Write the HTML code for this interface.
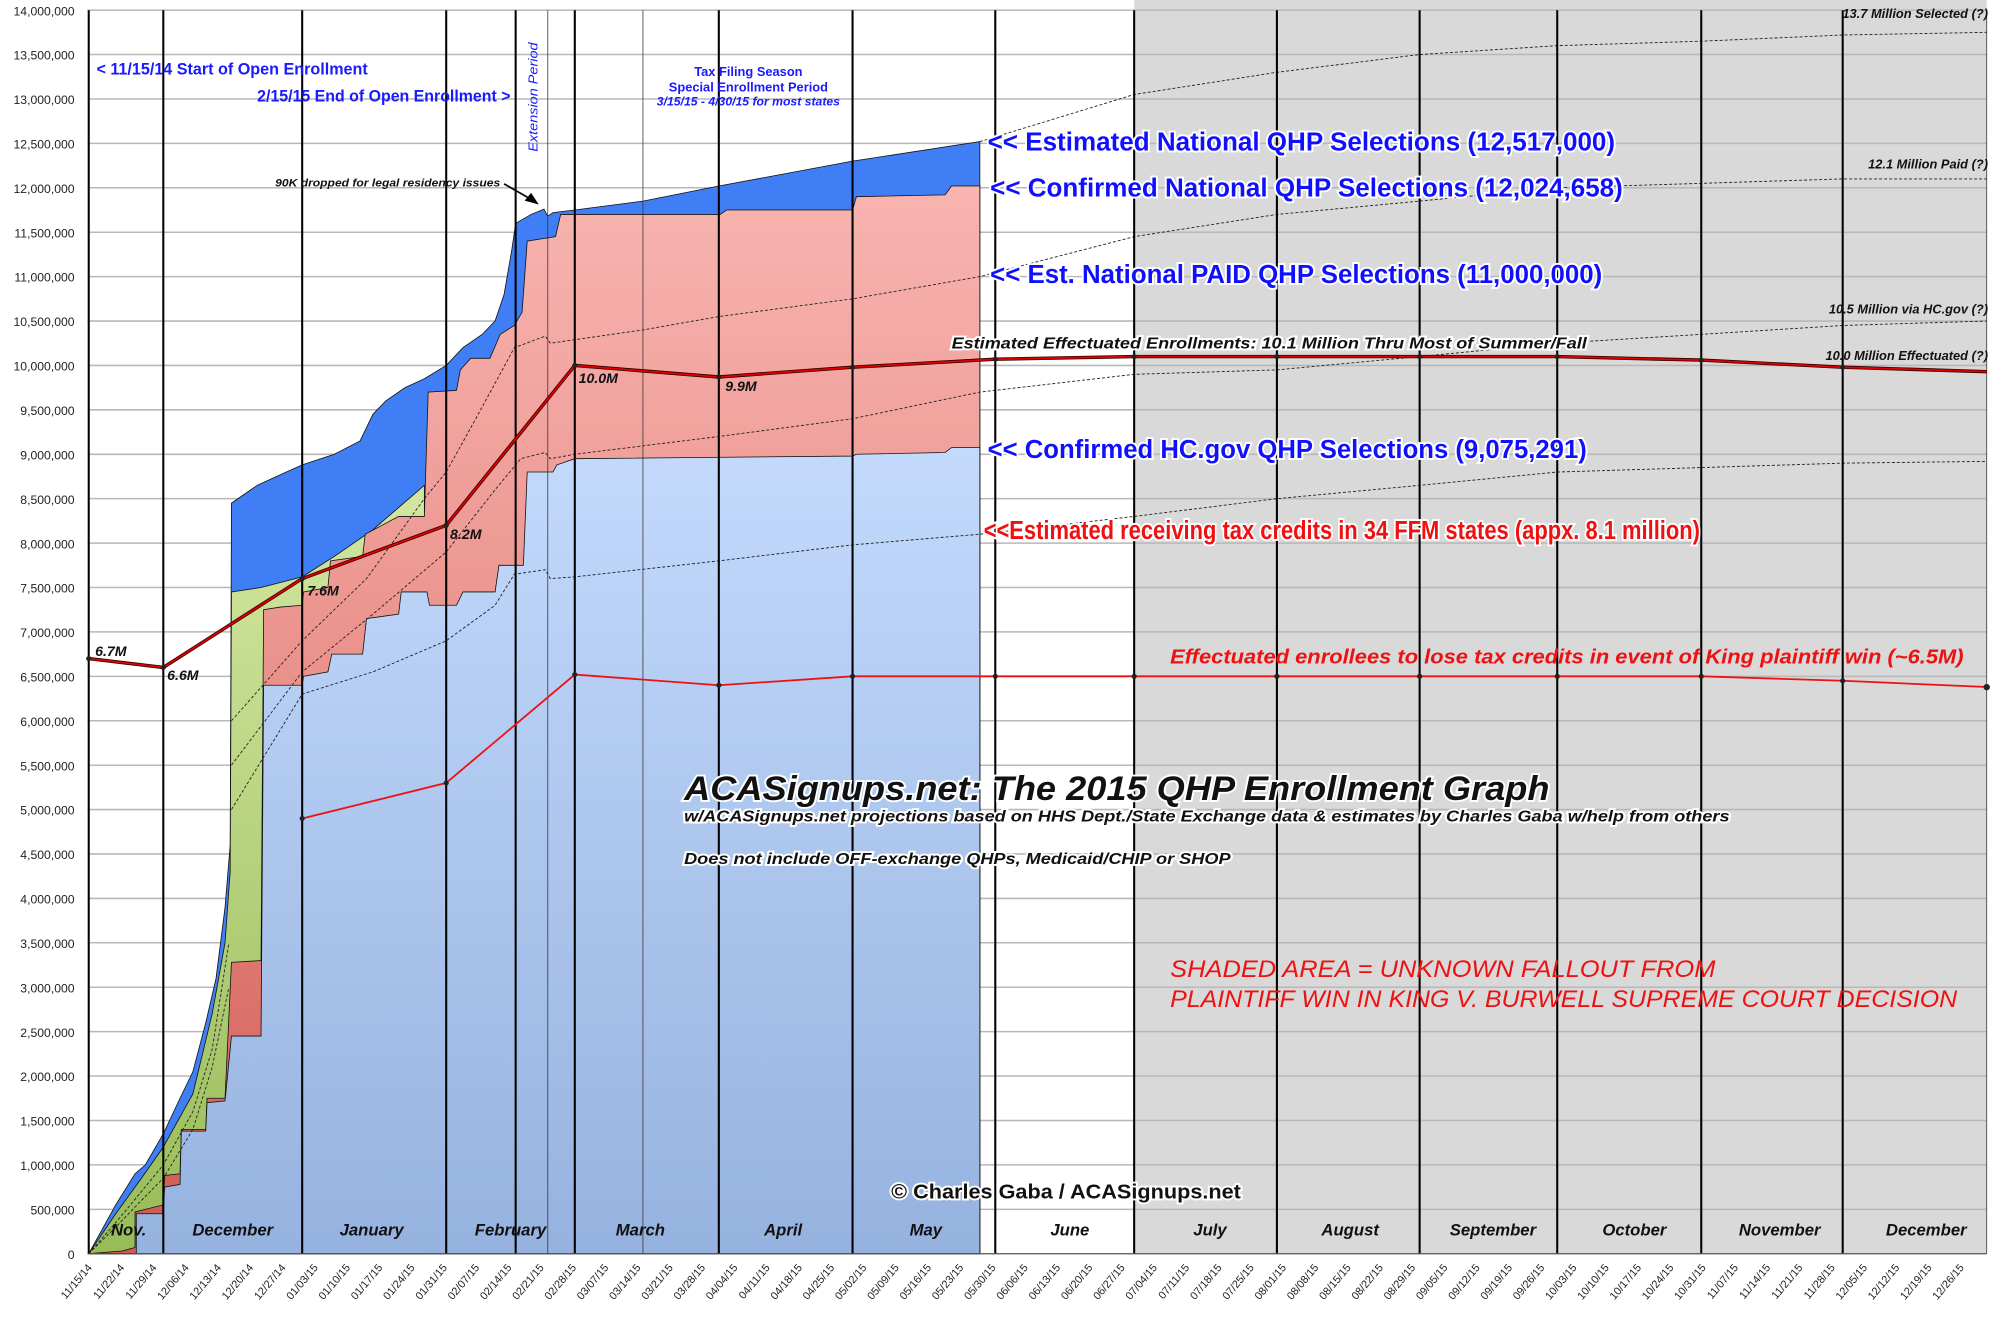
<!DOCTYPE html>
<html><head><meta charset="utf-8"><style>
html,body{margin:0;padding:0;background:#fff;}
svg{display:block;}
text{font-family:"Liberation Sans Narrow","Liberation Sans",sans-serif;}
.yl{font-size:9.5px;text-anchor:end;fill:#222;}
.xl{font-size:8.5px;text-anchor:end;fill:#222;}
.mo{font-size:13px;font-weight:bold;font-style:italic;text-anchor:middle;fill:#111;}
.big{font-size:20px;font-weight:bold;fill:#1010ff;stroke:#fff;stroke-width:3px;paint-order:stroke;}
.halo{stroke:#fff;stroke-width:3px;paint-order:stroke;}
.dl{font-size:11px;font-weight:bold;font-style:italic;fill:#111;}
.rt{font-size:10px;font-weight:bold;font-style:italic;fill:#111;text-anchor:end;}
</style></head><body>
<svg width="2006" height="1327" viewBox="0 0 1560 1032" preserveAspectRatio="none" xmlns="http://www.w3.org/2000/svg">
<defs>
<linearGradient id="lb" gradientUnits="userSpaceOnUse" x1="0" y1="9.1" x2="0" y2="0"><stop offset="0" stop-color="#c3dafc"/><stop offset="1" stop-color="#96b2df"/></linearGradient>
<linearGradient id="pk" gradientUnits="userSpaceOnUse" x1="0" y1="12" x2="0" y2="0"><stop offset="0" stop-color="#f8b4b0"/><stop offset="0.5" stop-color="#e98e88"/><stop offset="1" stop-color="#cf5a52"/></linearGradient>
<linearGradient id="gr" gradientUnits="userSpaceOnUse" x1="0" y1="8.6" x2="0" y2="0"><stop offset="0" stop-color="#d2e6a0"/><stop offset="1" stop-color="#98bc58"/></linearGradient>
</defs>
<rect x="0" y="0" width="1560" height="1032" fill="#fff"/>
<rect x="882" y="0" width="663" height="975" fill="#d9d9d9"/>
<g stroke="#b8b8b8" stroke-width="1.2">
<line x1="68" x2="1545" y1="7.9" y2="7.9"/><line x1="68" x2="1545" y1="42.4" y2="42.4"/><line x1="68" x2="1545" y1="77" y2="77"/><line x1="68" x2="1545" y1="111.5" y2="111.5"/><line x1="68" x2="1545" y1="146" y2="146"/><line x1="68" x2="1545" y1="180.6" y2="180.6"/><line x1="68" x2="1545" y1="215.1" y2="215.1"/><line x1="68" x2="1545" y1="249.7" y2="249.7"/><line x1="68" x2="1545" y1="284.2" y2="284.2"/><line x1="68" x2="1545" y1="318.7" y2="318.7"/><line x1="68" x2="1545" y1="353.3" y2="353.3"/><line x1="68" x2="1545" y1="387.8" y2="387.8"/><line x1="68" x2="1545" y1="422.4" y2="422.4"/><line x1="68" x2="1545" y1="456.9" y2="456.9"/><line x1="68" x2="1545" y1="491.4" y2="491.4"/><line x1="68" x2="1545" y1="526" y2="526"/><line x1="68" x2="1545" y1="560.5" y2="560.5"/><line x1="68" x2="1545" y1="595.1" y2="595.1"/><line x1="68" x2="1545" y1="629.6" y2="629.6"/><line x1="68" x2="1545" y1="664.1" y2="664.1"/><line x1="68" x2="1545" y1="698.7" y2="698.7"/><line x1="68" x2="1545" y1="733.2" y2="733.2"/><line x1="68" x2="1545" y1="767.8" y2="767.8"/><line x1="68" x2="1545" y1="802.3" y2="802.3"/><line x1="68" x2="1545" y1="836.8" y2="836.8"/><line x1="68" x2="1545" y1="871.4" y2="871.4"/><line x1="68" x2="1545" y1="905.9" y2="905.9"/><line x1="68" x2="1545" y1="940.5" y2="940.5"/>
</g>
<g transform="translate(0,975) scale(1,-69.08)">
<polygon fill="#3f7ef5" stroke="#111" stroke-width="0.8" vector-effect="non-scaling-stroke" points="69,0 90,0.55 105,0.9 113,1.0 127,1.35 140,1.75 150,2.05 160,2.6 168,3.1 175,3.9 179,4.6 180,8.45 190,8.55 200,8.65 215,8.75 235,8.88 260,9.0 280,9.15 290,9.45 300,9.6 315,9.75 330,9.85 347,10.0 360,10.2 375,10.35 385,10.5 392,10.8 398,11.3 401,11.6 413,11.7 423,11.76 426,11.68 430,11.72 447,11.75 500,11.85 559,12.02 663,12.3 762,12.52 762,0"/>
<polygon fill="url(#gr)" stroke="#111" stroke-width="0.8" vector-effect="non-scaling-stroke" points="69,0 90,0.45 110,0.85 127,1.2 150,1.8 165,2.7 175,3.5 179,4.3 180,7.45 203,7.5 235,7.62 260,7.85 290,8.15 310,8.4 330,8.65 331,0"/>
<polygon fill="url(#pk)" stroke="#111" stroke-width="0.8" vector-effect="non-scaling-stroke" points="69,0 95,0.03 105,0.07 105,0.47 127,0.55 128,0.88 140,0.9 141,1.4 160,1.4 161,1.75 175,1.75 180,3.28 203,3.3 205,7.25 218,7.28 235,7.3 236,7.45 255,7.5 257,7.8 282,7.85 284,8.1 310,8.3 330,8.3 333,9.7 355,9.72 358,9.95 366,10.08 381,10.08 389,10.35 400,10.45 406,10.6 410,11.4 432,11.45 436,11.7 560,11.7 565,11.75 663,11.75 666,11.9 735,11.92 740,12.02 762,12.02 762,0"/>
<polygon fill="url(#lb)" stroke="#111" stroke-width="0.8" vector-effect="non-scaling-stroke" points="69,0 106,0 106,0.45 127,0.45 128,0.75 140,0.78 141,1.38 160,1.38 161,1.7 175,1.72 180,2.45 203,2.45 205,6.4 235,6.4 236,6.5 255,6.55 258,6.75 282,6.75 285,7.15 310,7.2 312,7.45 332,7.45 334,7.3 355,7.3 360,7.45 385,7.45 388,7.75 407,7.75 410,8.8 430,8.8 433,8.88 447,8.95 663,8.98 666,9.0 735,9.02 740,9.075 762,9.075 762,0"/>
<g fill="none" stroke="#222" stroke-width="0.9" stroke-dasharray="3,2">
<polyline vector-effect="non-scaling-stroke" points="180,6.0 235,6.9 285,7.6 330,8.5 347,8.8 370,9.4 400,10.2 424,10.33 428,10.25 500,10.4 559,10.55 663,10.75 762,11.0 882,11.45 993,11.7 1104,11.85 1211,12.0 1323,12.05 1433,12.1 1545,12.1"/>
<polyline vector-effect="non-scaling-stroke" points="762,12.52 882,13.05 993,13.3 1104,13.5 1211,13.6 1323,13.65 1433,13.72 1545,13.75"/>
<polyline vector-effect="non-scaling-stroke" points="180,5.5 235,6.55 290,7.2 347,7.9 385,8.6 405,8.95 424,9.02 428,8.95 447,9.0 559,9.2 663,9.4 762,9.7 882,9.9 993,9.95 1104,10.1 1211,10.25 1323,10.35 1433,10.45 1545,10.5"/>
<polyline vector-effect="non-scaling-stroke" points="180,5.0 235,6.3 290,6.55 347,6.9 385,7.3 400,7.65 424,7.7 428,7.6 447,7.62 559,7.8 663,7.98 762,8.1 882,8.3 993,8.5 1104,8.65 1211,8.8 1323,8.85 1433,8.9 1545,8.92"/>
<polyline vector-effect="non-scaling-stroke" points="69,0 90,0.35 110,0.7 127,1.0 150,1.6 165,2.3 178,3.5"/>
<polyline vector-effect="non-scaling-stroke" points="69,0 90,0.3 110,0.6 127,0.85 150,1.4 165,2.1 178,3.0"/>
</g>
</g>
<g stroke="#000" stroke-width="1.6">
<line x1="69" x2="69" y1="8" y2="975"/><line x1="127" x2="127" y1="8" y2="975"/><line x1="235" x2="235" y1="8" y2="975"/><line x1="347" x2="347" y1="8" y2="975"/><line x1="401" x2="401" y1="8" y2="975"/><line x1="447" x2="447" y1="8" y2="975"/><line x1="559" x2="559" y1="8" y2="975"/><line x1="663" x2="663" y1="8" y2="975"/><line x1="774" x2="774" y1="8" y2="975"/><line x1="882" x2="882" y1="8" y2="975"/><line x1="993" x2="993" y1="8" y2="975"/><line x1="1104" x2="1104" y1="8" y2="975"/><line x1="1211" x2="1211" y1="8" y2="975"/><line x1="1323" x2="1323" y1="8" y2="975"/><line x1="1433" x2="1433" y1="8" y2="975"/>
</g>
<g stroke="#333" stroke-width="0.6"><line x1="426" x2="426" y1="8" y2="975"/><line x1="500" x2="500" y1="8" y2="975"/><line x1="1545" x2="1545" y1="8" y2="975"/></g>
<line x1="68" x2="1545" y1="975" y2="975" stroke="#555" stroke-width="1"/>
<g transform="translate(0,975) scale(1,-69.08)">
<polyline fill="none" stroke="#300" stroke-width="3.4" vector-effect="non-scaling-stroke" points="69,6.7 127,6.6 235,7.6 347,8.2 447,10.0 559,9.87 663,9.98 774,10.07 882,10.1 993,10.1 1104,10.1 1211,10.1 1323,10.06 1433,9.98 1545,9.93"/>
<polyline fill="none" stroke="#e00000" stroke-width="1.8" vector-effect="non-scaling-stroke" points="69,6.7 127,6.6 235,7.6 347,8.2 447,10.0 559,9.87 663,9.98 774,10.07 882,10.1 993,10.1 1104,10.1 1211,10.1 1323,10.06 1433,9.98 1545,9.93"/>
<polyline fill="none" stroke="#ee1111" stroke-width="1.8" vector-effect="non-scaling-stroke" points="235,4.9 347,5.3 447,6.52 559,6.4 663,6.5 774,6.5 882,6.5 993,6.5 1104,6.5 1211,6.5 1323,6.5 1433,6.45 1545,6.38"/>
</g>
<g fill="#222">
<circle cx="69" cy="512.2" r="2"/><circle cx="127" cy="519.1" r="2"/><circle cx="235" cy="450" r="2"/><circle cx="347" cy="408.5" r="2"/><circle cx="447" cy="284.2" r="2"/><circle cx="559" cy="293" r="2"/><circle cx="663" cy="285.6" r="2"/><circle cx="774" cy="279.3" r="2"/><circle cx="882" cy="277.3" r="2"/><circle cx="993" cy="277.3" r="2"/><circle cx="1104" cy="277.3" r="2"/><circle cx="1211" cy="277.3" r="2"/><circle cx="1323" cy="280" r="2"/><circle cx="1433" cy="285.6" r="2"/>
<circle cx="235" cy="636.5" r="2"/><circle cx="347" cy="608.9" r="2"/><circle cx="447" cy="524.6" r="2"/><circle cx="559" cy="532.9" r="2"/><circle cx="663" cy="526" r="2"/><circle cx="774" cy="526" r="2"/><circle cx="882" cy="526" r="2"/><circle cx="993" cy="526" r="2"/><circle cx="1104" cy="526" r="2"/><circle cx="1211" cy="526" r="2"/><circle cx="1323" cy="526" r="2"/><circle cx="1433" cy="529.5" r="2"/><circle cx="1545" cy="534.4" r="2.5"/>
</g>
<g class="yl">
<text x="58" y="979">0</text><text x="58" y="944.5">500,000</text><text x="58" y="910">1,000,000</text><text x="58" y="875.4">1,500,000</text><text x="58" y="840.8">2,000,000</text><text x="58" y="806.3">2,500,000</text><text x="58" y="771.8">3,000,000</text><text x="58" y="737.2">3,500,000</text><text x="58" y="702.7">4,000,000</text><text x="58" y="668.1">4,500,000</text><text x="58" y="633.6">5,000,000</text><text x="58" y="599.1">5,500,000</text><text x="58" y="564.5">6,000,000</text><text x="58" y="530">6,500,000</text><text x="58" y="495.4">7,000,000</text><text x="58" y="460.9">7,500,000</text><text x="58" y="426.4">8,000,000</text><text x="58" y="391.8">8,500,000</text><text x="58" y="357.3">9,000,000</text><text x="58" y="322.7">9,500,000</text><text x="58" y="288.2">10,000,000</text><text x="58" y="253.7">10,500,000</text><text x="58" y="219.1">11,000,000</text><text x="58" y="184.6">11,500,000</text><text x="58" y="150">12,000,000</text><text x="58" y="115.5">12,500,000</text><text x="58" y="81">13,000,000</text><text x="58" y="46.4">13,500,000</text><text x="58" y="11.9">14,000,000</text>
</g>
<g class="xl">
<text transform="translate(72,986) rotate(-50)">11/15/14</text><text transform="translate(97.1,986) rotate(-50)">11/22/14</text><text transform="translate(122.2,986) rotate(-50)">11/29/14</text><text transform="translate(147.3,986) rotate(-50)">12/06/14</text><text transform="translate(172.4,986) rotate(-50)">12/13/14</text><text transform="translate(197.5,986) rotate(-50)">12/20/14</text><text transform="translate(222.6,986) rotate(-50)">12/27/14</text><text transform="translate(247.7,986) rotate(-50)">01/03/15</text><text transform="translate(272.8,986) rotate(-50)">01/10/15</text><text transform="translate(297.9,986) rotate(-50)">01/17/15</text><text transform="translate(323,986) rotate(-50)">01/24/15</text><text transform="translate(348.1,986) rotate(-50)">01/31/15</text><text transform="translate(373.2,986) rotate(-50)">02/07/15</text><text transform="translate(398.3,986) rotate(-50)">02/14/15</text><text transform="translate(423.4,986) rotate(-50)">02/21/15</text><text transform="translate(448.5,986) rotate(-50)">02/28/15</text><text transform="translate(473.6,986) rotate(-50)">03/07/15</text><text transform="translate(498.7,986) rotate(-50)">03/14/15</text><text transform="translate(523.8,986) rotate(-50)">03/21/15</text><text transform="translate(548.9,986) rotate(-50)">03/28/15</text><text transform="translate(574,986) rotate(-50)">04/04/15</text><text transform="translate(599.1,986) rotate(-50)">04/11/15</text><text transform="translate(624.2,986) rotate(-50)">04/18/15</text><text transform="translate(649.3,986) rotate(-50)">04/25/15</text><text transform="translate(674.4,986) rotate(-50)">05/02/15</text><text transform="translate(699.5,986) rotate(-50)">05/09/15</text><text transform="translate(724.6,986) rotate(-50)">05/16/15</text><text transform="translate(749.7,986) rotate(-50)">05/23/15</text><text transform="translate(774.8,986) rotate(-50)">05/30/15</text><text transform="translate(799.9,986) rotate(-50)">06/06/15</text><text transform="translate(825,986) rotate(-50)">06/13/15</text><text transform="translate(850.1,986) rotate(-50)">06/20/15</text><text transform="translate(875.2,986) rotate(-50)">06/27/15</text><text transform="translate(900.3,986) rotate(-50)">07/04/15</text><text transform="translate(925.4,986) rotate(-50)">07/11/15</text><text transform="translate(950.5,986) rotate(-50)">07/18/15</text><text transform="translate(975.6,986) rotate(-50)">07/25/15</text><text transform="translate(1000.7,986) rotate(-50)">08/01/15</text><text transform="translate(1025.8,986) rotate(-50)">08/08/15</text><text transform="translate(1050.9,986) rotate(-50)">08/15/15</text><text transform="translate(1076,986) rotate(-50)">08/22/15</text><text transform="translate(1101.1,986) rotate(-50)">08/29/15</text><text transform="translate(1126.2,986) rotate(-50)">09/05/15</text><text transform="translate(1151.3,986) rotate(-50)">09/12/15</text><text transform="translate(1176.4,986) rotate(-50)">09/19/15</text><text transform="translate(1201.5,986) rotate(-50)">09/26/15</text><text transform="translate(1226.6,986) rotate(-50)">10/03/15</text><text transform="translate(1251.7,986) rotate(-50)">10/10/15</text><text transform="translate(1276.8,986) rotate(-50)">10/17/15</text><text transform="translate(1301.9,986) rotate(-50)">10/24/15</text><text transform="translate(1327,986) rotate(-50)">10/31/15</text><text transform="translate(1352.1,986) rotate(-50)">11/07/15</text><text transform="translate(1377.2,986) rotate(-50)">11/14/15</text><text transform="translate(1402.3,986) rotate(-50)">11/21/15</text><text transform="translate(1427.4,986) rotate(-50)">11/28/15</text><text transform="translate(1452.5,986) rotate(-50)">12/05/15</text><text transform="translate(1477.6,986) rotate(-50)">12/12/15</text><text transform="translate(1502.7,986) rotate(-50)">12/19/15</text><text transform="translate(1527.8,986) rotate(-50)">12/26/15</text>
</g>
<g class="mo">
<text x="100" y="961">Nov.</text><text x="181" y="961">December</text><text x="289" y="961">January</text><text x="397" y="961">February</text><text x="498" y="961">March</text><text x="609" y="961">April</text><text x="720" y="961">May</text><text x="832" y="961">June</text><text x="941" y="961">July</text><text x="1050" y="961">August</text><text x="1161" y="961">September</text><text x="1271" y="961">October</text><text x="1384" y="961">November</text><text x="1498" y="961">December</text>
</g>
<g font-weight="bold" fill="#1a1aff">
<text x="75" y="58" font-size="13" textLength="211" lengthAdjust="spacingAndGlyphs">&lt; 11/15/14 Start of Open Enrollment</text>
<text x="200" y="79" font-size="13" textLength="197" lengthAdjust="spacingAndGlyphs">2/15/15 End of Open Enrollment &gt;</text>
<text transform="translate(418,118) rotate(-90)" font-size="10" font-style="italic" font-weight="normal" textLength="85" lengthAdjust="spacingAndGlyphs">Extension Period</text>
<text x="582" y="59" font-size="10" text-anchor="middle">Tax Filing Season</text>
<text x="582" y="71" font-size="10" text-anchor="middle">Special Enrollment Period</text>
<text x="582" y="82" font-size="9.5" font-style="italic" text-anchor="middle">3/15/15 - 4/30/15 for most states</text>
</g>
<text x="214" y="145" font-size="8.5" font-weight="bold" font-style="italic" fill="#111" textLength="175" lengthAdjust="spacingAndGlyphs">90K dropped for legal residency issues</text>
<line x1="392" y1="143" x2="413" y2="155" stroke="#000" stroke-width="1.3"/>
<polygon points="419,159 408,156 413,150" fill="#000"/>
<text class="big" x="768" y="117" textLength="488" lengthAdjust="spacingAndGlyphs">&lt;&lt; Estimated National QHP Selections (12,517,000)</text>
<text class="big" x="770" y="153" textLength="492" lengthAdjust="spacingAndGlyphs">&lt;&lt; Confirmed National QHP Selections (12,024,658)</text>
<text class="big" x="770" y="220" textLength="476" lengthAdjust="spacingAndGlyphs">&lt;&lt; Est. National PAID QHP Selections (11,000,000)</text>
<text class="big" x="768" y="356" textLength="466" lengthAdjust="spacingAndGlyphs">&lt;&lt; Confirmed HC.gov QHP Selections (9,075,291)</text>
<text class="big" x="765" y="419" font-size="16" style="fill:#ee1111" textLength="557" lengthAdjust="spacingAndGlyphs">&lt;&lt;Estimated receiving tax credits in 34 FFM states (appx. 8.1 million)</text>
<text class="halo" x="740" y="271" font-size="12" font-weight="bold" font-style="italic" fill="#111" textLength="494" lengthAdjust="spacingAndGlyphs">Estimated Effectuated Enrollments: 10.1 Million Thru Most of Summer/Fall</text>
<text class="rt" x="1546" y="14">13.7 Million Selected (?)</text>
<text class="rt" x="1546" y="131">12.1 Million Paid (?)</text>
<text class="rt" x="1546" y="244">10.5 Million via HC.gov (?)</text>
<text class="rt" x="1546" y="280">10.0 Million Effectuated (?)</text>
<g class="dl">
<text x="74" y="510">6.7M</text><text x="130" y="529">6.6M</text><text x="239" y="463">7.6M</text><text x="350" y="419">8.2M</text><text x="450" y="298">10.0M</text><text x="564" y="304">9.9M</text>
</g>
<text x="910" y="516" font-size="16" font-weight="bold" font-style="italic" fill="#ee1111" textLength="617" lengthAdjust="spacingAndGlyphs">Effectuated enrollees to lose tax credits in event of King plaintiff win (~6.5M)</text>
<text class="halo" x="532" y="622" font-size="27" font-weight="bold" font-style="italic" fill="#111" textLength="673" lengthAdjust="spacingAndGlyphs">ACASignups.net: The 2015 QHP Enrollment Graph</text>
<text class="halo" x="532" y="639" font-size="12" font-weight="bold" font-style="italic" fill="#111" textLength="813" lengthAdjust="spacingAndGlyphs">w/ACASignups.net projections based on HHS Dept./State Exchange data &amp; estimates by Charles Gaba w/help from others</text>
<text class="halo" x="532" y="672" font-size="12" font-weight="bold" font-style="italic" fill="#111" textLength="425" lengthAdjust="spacingAndGlyphs">Does not include OFF-exchange QHPs, Medicaid/CHIP or SHOP</text>
<text x="910" y="760" font-size="19" font-style="italic" fill="#ee1111" textLength="424" lengthAdjust="spacingAndGlyphs">SHADED AREA = UNKNOWN FALLOUT FROM</text>
<text x="910" y="783" font-size="19" font-style="italic" fill="#ee1111" textLength="612" lengthAdjust="spacingAndGlyphs">PLAINTIFF WIN IN KING V. BURWELL SUPREME COURT DECISION</text>
<text class="halo" x="693" y="932" font-size="16" font-weight="bold" fill="#111" textLength="272" lengthAdjust="spacingAndGlyphs">© Charles Gaba / ACASignups.net</text>
</svg>
</body></html>
